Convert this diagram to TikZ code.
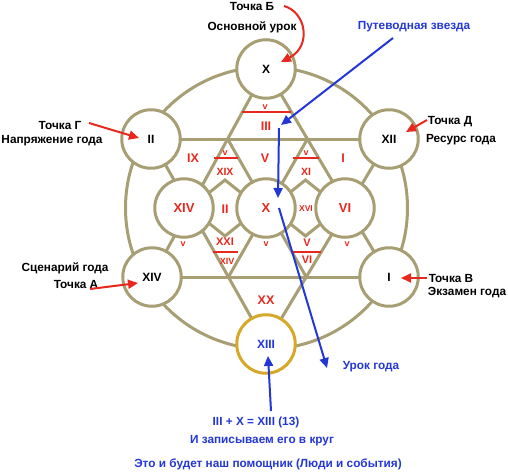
\documentclass[tikz,border=0pt]{standalone}
\usepackage{fontspec}
\setmainfont{Liberation Sans}
\usetikzlibrary{arrows.meta}
\definecolor{tan}{RGB}{168,158,116}
\definecolor{rd}{RGB}{232,40,30}
\definecolor{bl}{RGB}{35,55,215}
\definecolor{gold}{RGB}{214,168,40}
\begin{document}
\begin{tikzpicture}[x=1pt,y=-1pt,
  ring/.style={circle, draw=tan, line width=3pt, fill=white, minimum size=58.5pt, inner sep=0pt, font=\bfseries\fontsize{12}{13}\selectfont},
  web/.style={draw=tan, line width=3pt},
  redbar/.style={draw=rd, line width=2.4pt},
  lbl/.style={font=\bfseries\fontsize{11.8}{13}\selectfont, inner sep=0pt},
  rlab/.style={font=\bfseries\fontsize{12.5}{13}\selectfont, text=rd, inner sep=0pt},
  rsml/.style={font=\bfseries\fontsize{9}{10}\selectfont, text=rd, inner sep=0pt},
  blab/.style={font=\bfseries\fontsize{11.8}{13}\selectfont, text=bl, inner sep=0pt},
  rarrow/.style={draw=rd, line width=2pt, -{Triangle[length=10pt,width=9pt]}},
  barrow/.style={draw=bl, line width=2pt, -{Triangle[length=10pt,width=9pt]}}]
\useasboundingbox[fill=white] (0,0) rectangle (508,471);
% centres
\coordinate (cT) at (266,69);
\coordinate (cA) at (151,139);
\coordinate (cB) at (389,139);
\coordinate (cC) at (152,277);
\coordinate (cD) at (389,277);
\coordinate (cE) at (266,344);
\coordinate (cP) at (184,208);
\coordinate (cQ) at (266,208);
\coordinate (cR) at (345,208);
\coordinate (O) at (266.5,208);
% outer circle
\draw[web] (O) circle[radius=141pt];
% hexagram
\draw[web] (cT) -- (cC);
\draw[web] (cT) -- (cD);
\draw[web] (cA) -- (cE);
\draw[web] (cB) -- (cE);
\draw[web] (cA) -- (cB);
\draw[web] (cC) -- (cD);
\coordinate (p1) at (intersection of cT--cC and cA--cB);
\coordinate (p2) at (intersection of cT--cD and cA--cB);
\coordinate (p3) at (intersection of cA--cE and cC--cD);
\coordinate (p4) at (intersection of cB--cE and cC--cD);
\draw[web] (p1) -- (p4);
\draw[web] (p2) -- (p3);
% diamonds
\draw[web] (225,180) -- (195,204) -- (195,212) -- (225,236) -- (255,212) -- (255,204) -- cycle;
\draw[web] (305.5,180) -- (275.5,204) -- (275.5,212) -- (305.5,236) -- (335.5,212) -- (335.5,204) -- cycle;
% circles
\node[ring] (T) at (cT) {X};
\node[ring] (A) at (cA) {II};
\node[ring] (B) at (cB) {XII};
\node[ring] (C) at (cC) {XIV};
\node[ring] (D) at (cD) {I};
\node[ring, draw=gold, text=bl] (E) at (cE) {XIII};
\node[ring, text=rd, font=\bfseries\fontsize{13}{14}\selectfont] (P) at (cP) {XIV};
\node[ring, text=rd, font=\bfseries\fontsize{13}{14}\selectfont] (Q) at (cQ) {X};
\node[ring, text=rd, font=\bfseries\fontsize{13}{14}\selectfont] (R) at (cR) {VI};
% red bars
\draw[redbar] (242,112) -- (291,112);
\draw[redbar] (214,158) -- (238,158);
\draw[redbar] (293,158) -- (319,158);
\draw[redbar] (213,252) -- (238,252);
\draw[redbar] (293,252) -- (321,252);
% region labels
\node[rsml] (l1) at (265,107) {v};
\node[rlab] (l2) at (266,126) {III};
\node[rlab] (l3) at (193,158) {IX};
\node[rlab] (l4) at (265,158) {V};
\node[rlab] (l5) at (343,158) {I};
\node[rsml] (l6) at (225,153) {v};
\node[rsml, font=\bfseries\fontsize{10.5}{11}\selectfont] (l7) at (225,172) {XIX};
\node[rsml] (l8) at (306,153) {v};
\node[rsml, font=\bfseries\fontsize{10.5}{11}\selectfont] (l9) at (306,172) {XI};
\node[rlab] (l10) at (225,209) {II};
\node[rsml, font=\bfseries\fontsize{8.5}{9}\selectfont] (l11) at (306,209) {XVI};
\node[rsml] (l12) at (183,244) {v};
\node[rsml] (l13) at (266,244) {v};
\node[rsml] (l14) at (347,244) {v};
\node[rsml, font=\bfseries\fontsize{11}{12}\selectfont] (l15) at (225,242) {XXI};
\node[rsml] (l16) at (227,261) {XIV};
\node[rsml, font=\bfseries\fontsize{11}{12}\selectfont] (l17) at (307,243) {V};
\node[rsml, font=\bfseries\fontsize{11}{12}\selectfont] (l18) at (307,260) {VI};
\node[rlab] (l19) at (266,300) {XX};
% texts
\node[lbl] (tB) at (252,6) {Точка Б};
\node[lbl] (tB2) at (252,27) {Основной урок};
\node[blab] (tS) at (414,27) {Путеводная звезда};
\node[lbl] (tG) at (60,125) {Точка Г};
\node[lbl] (tG2) at (52,141) {Напряжение года};
\node[lbl] (tD) at (450,122) {Точка Д};
\node[lbl] (tD2) at (461,140) {Ресурс года};
\node[lbl] (tA2) at (65,268) {Сценарий года};
\node[lbl] (tA) at (76,284) {Точка А};
\node[lbl] (tV) at (451,278) {Точка В};
\node[lbl] (tV2) at (467,293) {Экзамен года};
\node[blab] (tU) at (371,367) {Урок года};
\node[blab] (f1) at (256,422) {III + X = XIII (13)};
\node[blab] (f2) at (262,441) {И записываем его в круг};
\node[blab] (f3) at (268,464) {Это и будет наш помощник (Люди и события)};
% red arrows
\coordinate (bS) at (284,6);
\coordinate (bE) at (281,62);
\draw[rarrow] (bS) .. controls (306,12) and (312,46) .. (bE);
\coordinate (gS) at (89,123);
\coordinate (gE) at (139,138);
\draw[rarrow] (gS) -- (gE);
\coordinate (aS) at (90,289);
\coordinate (aE) at (138,283);
\draw[rarrow] (aS) -- (aE);
\coordinate (dS) at (427,120);
\coordinate (dE) at (406,132);
\draw[rarrow] (dS) -- (dE);
\coordinate (vS) at (427,278);
\coordinate (vE) at (401,278);
\draw[rarrow] (vS) -- (vE);
% blue arrows
\coordinate (s1) at (393,38);
\coordinate (s2) at (281,125);
\draw[barrow] (s1) -- (s2);
\coordinate (s3) at (279,128);
\coordinate (s4) at (278,198);
\draw[barrow] (s3) -- (s4);
\coordinate (s5) at (279,208);
\coordinate (s6) at (327,368);
\draw[barrow] (s5) -- (s6);
\coordinate (s7) at (271,411);
\coordinate (s8) at (268,356);
\draw[barrow] (s7) -- (s8);
\end{tikzpicture}
\end{document}
